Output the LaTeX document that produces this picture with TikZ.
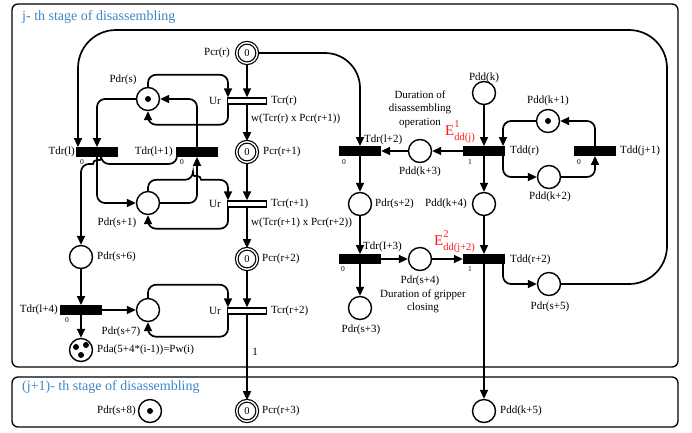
\documentclass[tikz,border=0pt]{standalone}
\usepackage{fontspec}
\setmainfont{Liberation Serif}
\usetikzlibrary{arrows.meta,calc}
\definecolor{ttl}{RGB}{61,133,198}
\definecolor{ered}{RGB}{255,25,25}
\begin{document}
\begin{tikzpicture}[x=1pt,y=-1pt,
  every node/.style={font=\fontsize{11}{13}\selectfont},
  place/.style={circle,draw,line width=1.4pt,minimum size=23pt,inner sep=0pt},
  cplace/.style={circle,draw,line width=1.2pt,double=white,double distance=1.4pt,minimum size=20.5pt,inner sep=0pt,font=\fontsize{10.5}{10}\selectfont},
  tbar/.style={rectangle,fill=black,minimum width=42pt,minimum height=9.5pt,inner sep=0pt},
  wbar/.style={rectangle,draw,fill=white,line width=1.4pt,minimum width=39pt,minimum height=6pt,inner sep=0pt},
  arc/.style={line width=1.7pt,-{Triangle[length=9pt,width=8pt]},rounded corners=8pt},
  lbl/.style={inner sep=0pt},
  tiny/.style={inner sep=0pt,font=\fontsize{7.5}{8}\selectfont},
  stage/.style={draw,line width=1.3pt,rounded corners=6pt},
  ttltext/.style={inner sep=0pt,anchor=west,text=ttl,font=\fontsize{14}{16}\selectfont},
  etext/.style={inner sep=0pt,anchor=base west,text=ered,font=\fontsize{15}{15}\selectfont},
  tok/.style={circle,fill=black,minimum size=6pt,inner sep=0pt}
]
\useasboundingbox (0,0) rectangle (692,432);
% stage boxes
\draw[stage] (12,4) rectangle (678,367);
\draw[stage] (12,377) rectangle (678,427);
\node[ttltext] (title1) at (22,17) {j- th stage of disassembling};
\node[ttltext] (title2) at (22,387) {(j+1)- th stage of disassembling};

% central column
\node[cplace] (Pcrr) at (247,53) {0};
\node[wbar] (Tcrr) at (247,101) {};
\node[cplace] (Pcrr1) at (247,152) {0};
\node[wbar] (Tcrr1) at (247,204) {};
\node[cplace] (Pcrr2) at (247,259) {0};
\node[wbar] (Tcrr2) at (247,311) {};
\node[cplace] (Pcrr3) at (247,411) {0};

% left part
\node[place] (Pdrs) at (148,99) {};
\node[tok] (tokA) at (148,99) {};
\node[tbar] (Tdrl) at (97,152) {};
\node[tbar] (Tdrl1) at (197,152) {};
\node[place] (Pdrs1) at (148,203) {};
\node[place] (Pdrs6) at (81,257) {};
\node[tbar] (Tdrl4) at (81,310) {};
\node[place] (Pdrs7) at (148,310) {};
\node[place] (Pda) at (81,350) {};
\node[tok] (tokB) at (76,347) {};
\node[tok] (tokC) at (86,345) {};
\node[tok] (tokD) at (81,355) {};
\node[place] (Pdrs8) at (150,411) {};
\node[tok] (tokE) at (150,411) {};

% right part
\node[tbar] (Tdrl2) at (360,151) {};
\node[place] (Pdrs2) at (360,204) {};
\node[tbar] (Tdrl3) at (360,259) {};
\node[place] (Pdrs3) at (360,308) {};
\node[place] (Pdrs4) at (420,259) {};
\node[place] (Pddk3) at (420,151) {};
\node[tbar] (Tddr) at (484,151) {};
\node[place] (Pddk) at (484,93) {};
\node[place] (Pddk4) at (484,204) {};
\node[tbar] (Tddr2) at (484,259) {};
\node[place] (Pddk5) at (484,411) {};
\node[place] (Pddk1) at (548,121) {};
\node[tok] (tokF) at (548,121) {};
\node[place] (Pddk2) at (549,177) {};
\node[tbar] (Tddj1) at (595,151) {};
\node[place] (Pdrs5) at (549,284) {};

% central arcs
\draw[arc] (Pcrr) -- (Tcrr);
\draw[arc] (Tcrr) -- (Pcrr1);
\draw[arc] (Pcrr1) -- (Tcrr1);
\draw[arc] (Tcrr1) -- (Pcrr2);
\draw[arc] (Pcrr2) -- (Tcrr2);
\draw[arc] (Tcrr2) -- (Pcrr3);

% Ur loops
\draw[arc] (Pdrs.north) -- ++(0,-12) -| ([xshift=-19pt]Tcrr.north);
\draw[arc] ([xshift=-19pt]Tcrr.south) -- ++(0,20) -| (Pdrs.south);
\draw[arc] (Pdrs1.north) -- ++(0,-11) -- ++(45,0) [sharp corners] arc[start angle=180,end angle=0,radius=4pt] [rounded corners=8pt] -| ([xshift=-19pt]Tcrr1.north);
\draw[arc] ([xshift=-19pt]Tcrr1.south) -- ++(0,21) -| (Pdrs1.south);
\draw[arc] (Pdrs7.north) -- ++(0,-13) -| ([xshift=-19pt]Tcrr2.north);
\draw[arc] ([xshift=-19pt]Tcrr2.south) -- ++(0,22) -| (Pdrs7.south);

% left arcs
\draw[arc] (Pdrs.west) -| (Tdrl.north);
\draw[arc] (Tdrl1.north) |- (Pdrs.east);
\draw[arc] (Pdrs1.east) -| (Tdrl1.south);
\draw[arc] (Tdrl.south) |- (Pdrs1.west);
\draw[arc] ([xshift=-20pt]Tdrl1.south) -- ++(0,7) -- ++(-76,0) [sharp corners] arc[start angle=0,end angle=180,radius=4pt] [rounded corners=8pt] -| (Pdrs6.north);
\draw[arc] (Pdrs6) -- (Tdrl4);
\draw[arc] (Tdrl4.east) -- (Pdrs7.west);
\draw[arc] (Tdrl4) -- (Pda);

% big return arc
\coordinate (bigcorner) at (667,30);
\draw[arc,rounded corners=38pt] (Pdrs5.east) -| (bigcorner) -| ([xshift=-19pt]Tdrl.north);

% right arcs
\draw[arc,rounded corners=35pt] (Pcrr.east) -| (Tdrl2.north);
\draw[arc] (Tdrl2) -- (Pdrs2);
\draw[arc] (Pdrs2) -- (Tdrl3);
\draw[arc] (Tdrl3) -- (Pdrs3);
\draw[arc] (Tdrl3.east) -- (Pdrs4.west);
\draw[arc] (Pdrs4.east) -- (Tddr2.west);
\draw[arc] (Tddr.west) -- (Pddk3.east);
\draw[arc] (Pddk3.west) -- (Tdrl2.east);
\draw[arc] (Pddk) -- (Tddr);
\draw[arc] (Tddr) -- (Pddk4);
\draw[arc] (Pddk4) -- (Tddr2);
\draw[arc] (Tddr2) -- (Pddk5);
\draw[arc] (Pddk1.west) -| ([xshift=19pt]Tddr.north);
\draw[arc] ([xshift=19pt]Tddr.south) |- (Pddk2.west);
\draw[arc] (Pddk2.east) -| (Tddj1.south);
\draw[arc] (Tddj1.north) |- (Pddk1.east);
\draw[arc] ([xshift=19pt]Tddr2.south) |- (Pdrs5.west);

% labels
\node[lbl,anchor=east] (lPcrr) at (230,53) {Pcr(r)};
\node[lbl] (lUr1) at (215,101) {Ur};
\node[lbl,anchor=west] (lTcrr) at (271,101) {Tcr(r)};
\node[lbl,anchor=west] (lw1) at (251,119) {w(Tcr(r) x Pcr(r+1))};
\node[lbl,anchor=west] (lPcrr1) at (263,152) {Pcr(r+1)};
\node[lbl] (lUr2) at (215,204) {Ur};
\node[lbl,anchor=west] (lTcrr1) at (271,204) {Tcr(r+1)};
\node[lbl,anchor=west] (lw2) at (251,223) {w(Tcr(r+1) x Pcr(r+2))};
\node[lbl,anchor=west] (lPcrr2) at (262,259) {Pcr(r+2)};
\node[lbl] (lUr3) at (215,311) {Ur};
\node[lbl,anchor=west] (lTcrr2) at (271,311) {Tcr(r+2)};
\node[lbl] (lone) at (255,352) {1};
\node[lbl,anchor=west] (lPcrr3) at (262,411) {Pcr(r+3)};

\node[lbl] (lPdrs) at (123,80) {Pdr(s)};
\node[lbl,anchor=east] (lTdrl) at (75,152) {Tdr(l)};
\node[tiny] (z1) at (82,162) {0};
\node[lbl,anchor=east] (lTdrl1) at (173,152) {Tdr(l+1)};
\node[tiny] (z2) at (182,162) {0};
\node[lbl] (lPdrs1) at (117,223) {Pdr(s+1)};
\node[lbl,anchor=west] (lPdrs6) at (97,257) {Pdr(s+6)};
\node[lbl,anchor=east] (lTdrl4) at (58,310) {Tdr(l+4)};
\node[tiny] (z3) at (67,320) {0};
\node[lbl] (lPdrs7) at (121,332) {Pdr(s+7)};
\node[lbl,anchor=west] (lPda) at (97,350) {Pda(5+4*(i-1))=Pw(i)};
\node[lbl,anchor=east] (lPdrs8) at (136,411) {Pdr(s+8)};

\node[lbl,anchor=west] (lTdrl2) at (364,140) {Tdr(l+2)};
\node[tiny] (z4) at (344,162) {0};
\node[lbl,anchor=west] (lPdrs2) at (375,204) {Pdr(s+2)};
\node[lbl,align=center,font=\fontsize{11}{13.5}\selectfont] (dur1) at (420,109) {Duration of\\disassembling\\operation};
\node[etext] (E1) at (445,135) {E\rlap{\raisebox{8pt}{\fontsize{10.5}{10}\selectfont 1}}\raisebox{-5pt}{\fontsize{10.5}{10}\selectfont dd(j)}};
\node[lbl] (lPddk3) at (420,172) {Pdd(k+3)};
\node[tiny] (o1) at (470,162) {1};
\node[lbl,anchor=west] (lTddr) at (510,151) {Tdd(r)};
\node[lbl] (lPddk) at (484,78) {Pdd(k)};
\node[lbl] (lPddk1) at (548,101) {Pdd(k+1)};
\node[lbl,anchor=west] (lTddj1) at (620,151) {Tdd(j+1)};
\node[tiny] (z5) at (579,162) {0};
\node[lbl] (lPddk2) at (550,197) {Pdd(k+2)};
\node[lbl,anchor=east] (lPddk4) at (467,204) {Pdd(k+4)};
\node[lbl,anchor=west] (lTdrl3) at (363,247) {Tdr(I+3)};
\node[tiny] (z6) at (343,269) {0};
\node[lbl] (lPdrs3) at (361,330) {Pdr(s+3)};
\node[lbl] (lPdrs4) at (420,281) {Pdr(s+4)};
\node[lbl,align=center,font=\fontsize{11}{13}\selectfont] (dur2) at (423,301) {Duration of gripper\\closing};
\node[etext] (E2) at (434,245) {E\rlap{\raisebox{8pt}{\fontsize{10.5}{10}\selectfont 2}}\raisebox{-5pt}{\fontsize{10.5}{10}\selectfont dd(j+2)}};
\node[tiny] (o2) at (470,269) {1};
\node[lbl,anchor=west] (lTddr2) at (510,260) {Tdd(r+2)};
\node[lbl] (lPdrs5) at (550,307) {Pdr(s+5)};
\node[lbl,anchor=west] (lPddk5) at (500,411) {Pdd(k+5)};
\end{tikzpicture}
\end{document}
